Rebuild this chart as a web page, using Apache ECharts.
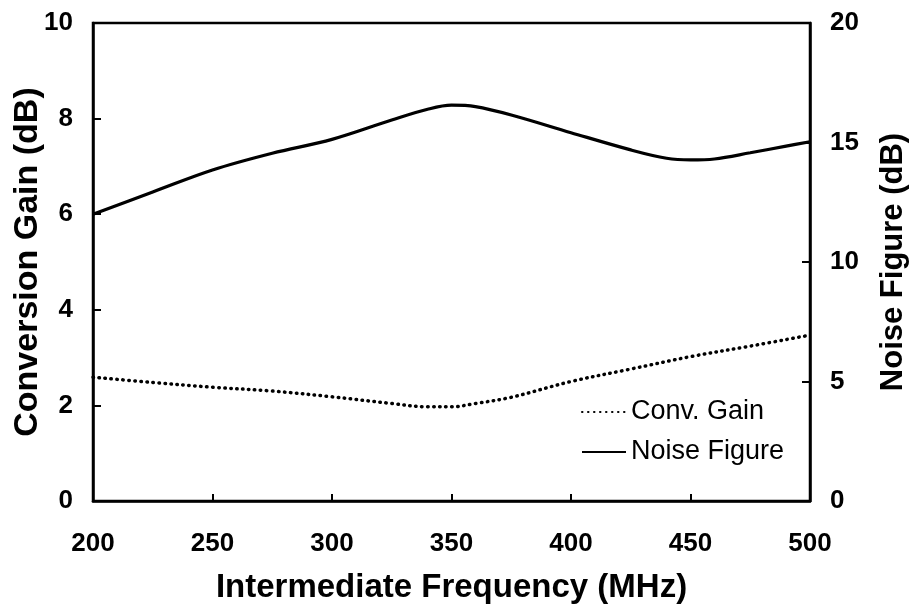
<!DOCTYPE html>
<html>
<head>
<meta charset="utf-8">
<script src="https://cdn.jsdelivr.net/npm/echarts@6/dist/echarts.min.js"></script>
<style>
  html, body { margin: 0; padding: 0; background: #fff; }
  #chart { width: 913px; height: 612px; }
</style>
</head>
<body>
<div id="chart"></div>
<script>
// ---- data ----
var nfFreq = [200, 225, 250, 275, 300, 325, 340, 350, 360, 375, 400, 425, 440, 450, 460, 475, 490, 500];
var noiseFigure = [12.0, 12.93, 13.85, 14.55, 15.13, 15.94, 16.39, 16.56, 16.5, 16.15, 15.41, 14.69, 14.34, 14.27, 14.31, 14.57, 14.85, 15.03];
var gainFreq = [200, 225, 250, 275, 300, 325, 340, 350, 360, 375, 400, 425, 450, 475, 500];
var convGain = [2.59, 2.48, 2.38, 2.30, 2.18, 2.04, 1.97, 1.97, 2.04, 2.17, 2.50, 2.76, 3.02, 3.24, 3.47];
var seriesNames = ['Conv. Gain', 'Noise Figure'];
var xAxisName = 'Intermediate Frequency (MHz)';
var leftAxisName = 'Conversion Gain (dB)';
var rightAxisName = 'Noise Figure (dB)';

function zip(xs, ys) { return xs.map(function (x, i) { return [x, ys[i]]; }); }

var FONT = '"Liberation Sans", Arial, Helvetica, sans-serif';
var chart = echarts.init(document.getElementById('chart'), null, { renderer: 'canvas' });
chart.setOption({
  animation: false,
  backgroundColor: '#fff',
  grid: { left: 93, right: 103, top: 23, bottom: 111, containLabel: false, outerBoundsMode: 'none',
          show: true, borderColor: '#000', borderWidth: 2.5, backgroundColor: 'transparent' },
  legend: {
    orient: 'vertical', left: 576, top: 393,
    itemWidth: 44, itemHeight: 14, itemGap: 12,
    itemStyle: { opacity: 0 },
    textStyle: { fontFamily: FONT, fontSize: 27, color: '#000', lineHeight: 28 },
    data: seriesNames
  },
  xAxis: {
    type: 'value', min: 200, max: 500, interval: 50,
    name: xAxisName, nameLocation: 'middle', nameGap: 70, nameMoveOverlap: false,
    nameTextStyle: { fontFamily: FONT, fontSize: 33, fontWeight: 'bold', color: '#000' },
    axisLine: { show: true, lineStyle: { color: '#000', width: 2.5 } },
    axisTick: { show: true, inside: true, length: 7, lineStyle: { color: '#000', width: 2 } },
    axisLabel: { fontFamily: FONT, fontSize: 26, fontWeight: 'bold', color: '#000', margin: 30 },
    splitLine: { show: false }
  },
  yAxis: [{
    type: 'value', min: 0, max: 10, interval: 2, position: 'left',
    name: leftAxisName, nameLocation: 'middle', nameRotate: 90, nameGap: 48, nameMoveOverlap: false,
    nameTextStyle: { fontFamily: FONT, fontSize: 34, fontWeight: 'bold', color: '#000' },
    axisLine: { show: true, lineStyle: { color: '#000', width: 2.5 } },
    axisTick: { show: true, inside: true, length: 8, lineStyle: { color: '#000', width: 2 } },
    axisLabel: { fontFamily: FONT, fontSize: 26, fontWeight: 'bold', color: '#000', margin: 20 },
    splitLine: { show: false }
  }, {
    type: 'value', min: 0, max: 20, interval: 5, position: 'right',
    name: rightAxisName, nameLocation: 'middle', nameRotate: 90, nameGap: 68,
    nameTextStyle: { fontFamily: FONT, fontSize: 31, fontWeight: 'bold', color: '#000' },
    axisLine: { show: true, lineStyle: { color: '#000', width: 2.5 } },
    axisTick: { show: true, inside: true, length: 8, lineStyle: { color: '#000', width: 2 } },
    axisLabel: { fontFamily: FONT, fontSize: 26, fontWeight: 'bold', color: '#000', margin: 20 },
    splitLine: { show: false }
  }],
  series: [{
    name: seriesNames[0], type: 'line', yAxisIndex: 0, smooth: 0.35,
    symbol: 'none', showSymbol: false,
    itemStyle: { color: '#000' },
    lineStyle: { color: '#000', width: 3.5, type: [0.5, 5.5], cap: 'round' },
    data: zip(gainFreq, convGain)
  }, {
    name: seriesNames[1], type: 'line', yAxisIndex: 1, smooth: 0.35,
    symbol: 'none', showSymbol: false,
    itemStyle: { color: '#000' },
    lineStyle: { color: '#000', width: 3.2, type: 'solid' },
    data: zip(nfFreq, noiseFigure)
  }]
});
</script>
</body>
</html>
